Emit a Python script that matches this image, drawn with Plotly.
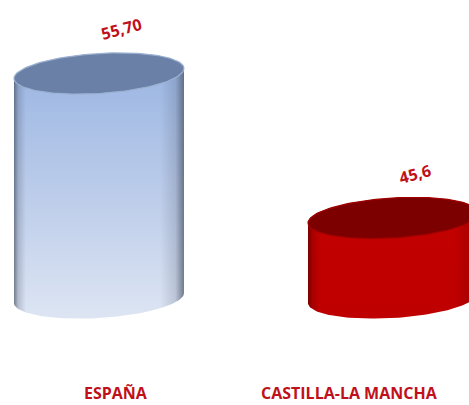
import numpy as np
import plotly.graph_objects as go

# ---- data ----
categories = ["ESPAÑA", "CASTILLA-LA MANCHA"]
values = [55.70, 45.6]
value_labels = ["55,70", "45,6"]
axis_min = 40

# ---- styling ----
W, H = 469, 405
px_per_unit = 14.3
base_px = 298          # pixel row of the axis minimum
cat_px = [99, 393]     # pixel centres of the cylinders
half_w_px = 85
ell_b_px = 20
tilt_px = 5

xpos = [0, 1]
unit_x = cat_px[1] - cat_px[0]
x_range = [(0 - cat_px[0]) / unit_x, (W - cat_px[0]) / unit_x]
y_range = [axis_min - (H - base_px) / px_per_unit, axis_min + base_px / px_per_unit]
hw = half_w_px / unit_x
b = ell_b_px / px_per_unit
s = tilt_px / px_per_unit

styles = [
    dict(body_v=[[0, "#dde5f3"], [0.45, "#bdcdea"], [1, "#98b4e2"]],
         shade="70,80,100", top="#6a80a7", rim="#9cb0d2"),
    dict(body_v=[[0, "#bf0000"], [1, "#c20000"]],
         shade="90,0,0", top="#7d0000", rim="#a00000"),
]

fig = go.Figure()

for i, v in enumerate(values):
    xc = xpos[i]
    st = styles[i]
    t_back = np.linspace(np.pi, 0, 80)
    t_front = np.linspace(0, -np.pi, 80)
    xs = np.concatenate([xc + hw * np.cos(t_back), xc + hw * np.cos(t_front)])
    ys = np.concatenate([v + b * np.sin(t_back) + s * np.cos(t_back),
                         axis_min + b * np.sin(t_front) + s * np.cos(t_front)])
    xs = np.append(xs, xs[0])
    ys = np.append(ys, ys[0])
    # body with vertical gradient
    fig.add_trace(go.Scatter(x=xs, y=ys, mode="lines", fill="toself",
                             line=dict(width=0),
                             fillgradient=dict(type="vertical", colorscale=st["body_v"]),
                             hoverinfo="skip", showlegend=False))
    # cylindrical shading overlay
    sh = st["shade"]
    fig.add_trace(go.Scatter(x=xs, y=ys, mode="lines", fill="toself",
                             line=dict(width=0),
                             fillgradient=dict(type="horizontal", colorscale=[
                                 [0, f"rgba({sh},0.7)"], [0.025, f"rgba({sh},0.25)"],
                                 [0.07, f"rgba({sh},0.0)"], [0.86, f"rgba({sh},0.0)"],
                                 [0.95, f"rgba({sh},0.2)"], [0.985, f"rgba({sh},0.55)"],
                                 [1, f"rgba({sh},0.7)"]]),
                             hoverinfo="skip", showlegend=False))
    # top ellipse
    t = np.linspace(0, 2 * np.pi, 160)
    fig.add_trace(go.Scatter(x=xc + hw * np.cos(t),
                             y=v + b * np.sin(t) + s * np.cos(t),
                             mode="lines", fill="toself", fillcolor=st["top"],
                             line=dict(width=1.2, color=st["rim"]),
                             hoverinfo="skip", showlegend=False))
    fig.add_annotation(x=xc, y=v, text=f"<b>{value_labels[i]}</b>", showarrow=False,
                       xanchor="center", yanchor="middle",
                       xshift=22, yshift=44, textangle=-15,
                       font=dict(family="Open Sans", size=16, color="#c0101a"))

cat_label_px = [116, 349]
for i, c in enumerate(categories):
    fig.add_annotation(x=cat_label_px[i] / W, y=1 - 393 / H,
                       xref="paper", yref="paper", xanchor="center", yanchor="middle",
                       text=f"<b>{c}</b>", showarrow=False,
                       font=dict(family="Open Sans", size=16, color="#c0101a"))

fig.update_layout(width=W, height=H, margin=dict(l=0, r=0, t=0, b=0),
                  paper_bgcolor="white", plot_bgcolor="white",
                  xaxis=dict(range=x_range, visible=False, fixedrange=True),
                  yaxis=dict(range=y_range, visible=False, fixedrange=True))
fig.write_html("out.html", config={"displayModeBar": False},
               post_script="document.body.style.margin='0';document.body.style.overflow='hidden';")
